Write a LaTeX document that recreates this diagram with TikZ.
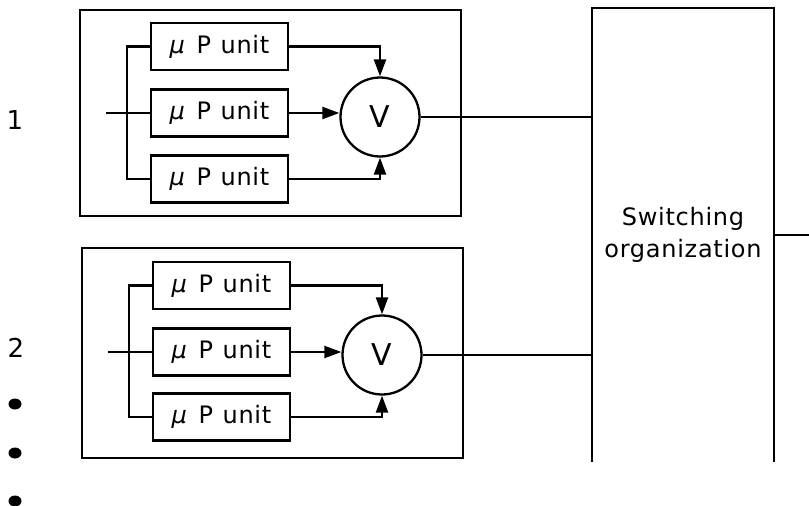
\documentclass[tikz,border=0pt]{standalone}
\usepackage{fontspec}
\setmainfont{DejaVu Sans}[LetterSpace=3]
\usetikzlibrary{arrows.meta,shapes.geometric}
\begin{document}
\begin{tikzpicture}[x=1pt,y=-1pt,
  ln/.style={line width=2.3pt},
  arr/.style={ln,-{Triangle[length=17pt,width=12pt]}},
  outerbox/.style={draw,line width=2.3pt,minimum width=381pt,inner sep=0pt},
  unitbox/.style={draw,line width=2.3pt,minimum width=137pt,minimum height=47pt,inner sep=0pt,font=\fontsize{24}{28}\selectfont},
  voter/.style={draw,circle,line width=2.3pt,minimum size=79pt,inner sep=0pt,font=\fontsize{30}{34}\selectfont},
  lab/.style={font=\fontsize{26}{30}\selectfont},
  dotm/.style={ellipse,fill,minimum width=13pt,minimum height=11pt,inner sep=0pt}]
\useasboundingbox (0,0) rectangle (809,506);
% switching organization
\node[minimum width=182pt,minimum height=454pt,inner sep=0pt,align=center,
  font=\fontsize{24}{32}\selectfont] (sw) at (683,235) {Switching\\organization};
\draw[line width=2.3pt] (sw.south west) -- (sw.north west) -- (sw.north east) -- (sw.south east);
\coordinate (out) at (809,235);
\draw[ln] (sw.east) -- (out);
% group 1
\node[outerbox,minimum height=206pt] (o1) at (270.5,113) {};
\node[unitbox] (a1) at (219.5,46.5) {\textit{μ}\hspace{0.45em}P\hspace{0.4em}unit};
\node[unitbox] (a2) at (219.5,113) {\textit{μ}\hspace{0.45em}P\hspace{0.4em}unit};
\node[unitbox] (a3) at (219.5,179) {\textit{μ}\hspace{0.45em}P\hspace{0.4em}unit};
\node[voter] (v1) at (380,117) {V};
\coordinate (i1) at (106,113);
\draw[ln] (i1) -- (a2.west);
\draw[ln] (a1.west) -- ++(-23,0) |- (a3.west);
\draw[arr] (a1.east) -| (v1.north);
\draw[arr] (a2.east) -- (a2.east -| v1.west);
\draw[arr] (a3.east) -| (v1.south);
\draw[ln] (v1.east) -- (v1.east -| sw.west);
% group 2
\node[outerbox,minimum height=210pt] (o2) at (272.5,353) {};
\node[unitbox] (b1) at (221.5,285.5) {\textit{μ}\hspace{0.45em}P\hspace{0.4em}unit};
\node[unitbox] (b2) at (221.5,352) {\textit{μ}\hspace{0.45em}P\hspace{0.4em}unit};
\node[unitbox] (b3) at (221.5,417) {\textit{μ}\hspace{0.45em}P\hspace{0.4em}unit};
\node[voter] (v2) at (382,355) {V};
\coordinate (i2) at (108,352);
\draw[ln] (i2) -- (b2.west);
\draw[ln] (b1.west) -- ++(-23,0) |- (b3.west);
\draw[arr] (b1.east) -| (v2.north);
\draw[arr] (b2.east) -- (b2.east -| v2.west);
\draw[arr] (b3.east) -| (v2.south);
\draw[ln] (v2.east) -- (v2.east -| sw.west);
% labels
\node[lab] (l1) at (15,120) {1};
\node[lab] (l2) at (16,348) {2};
\node[dotm] (d1) at (15,404) {};
\node[dotm] (d2) at (15,453) {};
\node[dotm] (d3) at (15,501) {};
\end{tikzpicture}
\end{document}
